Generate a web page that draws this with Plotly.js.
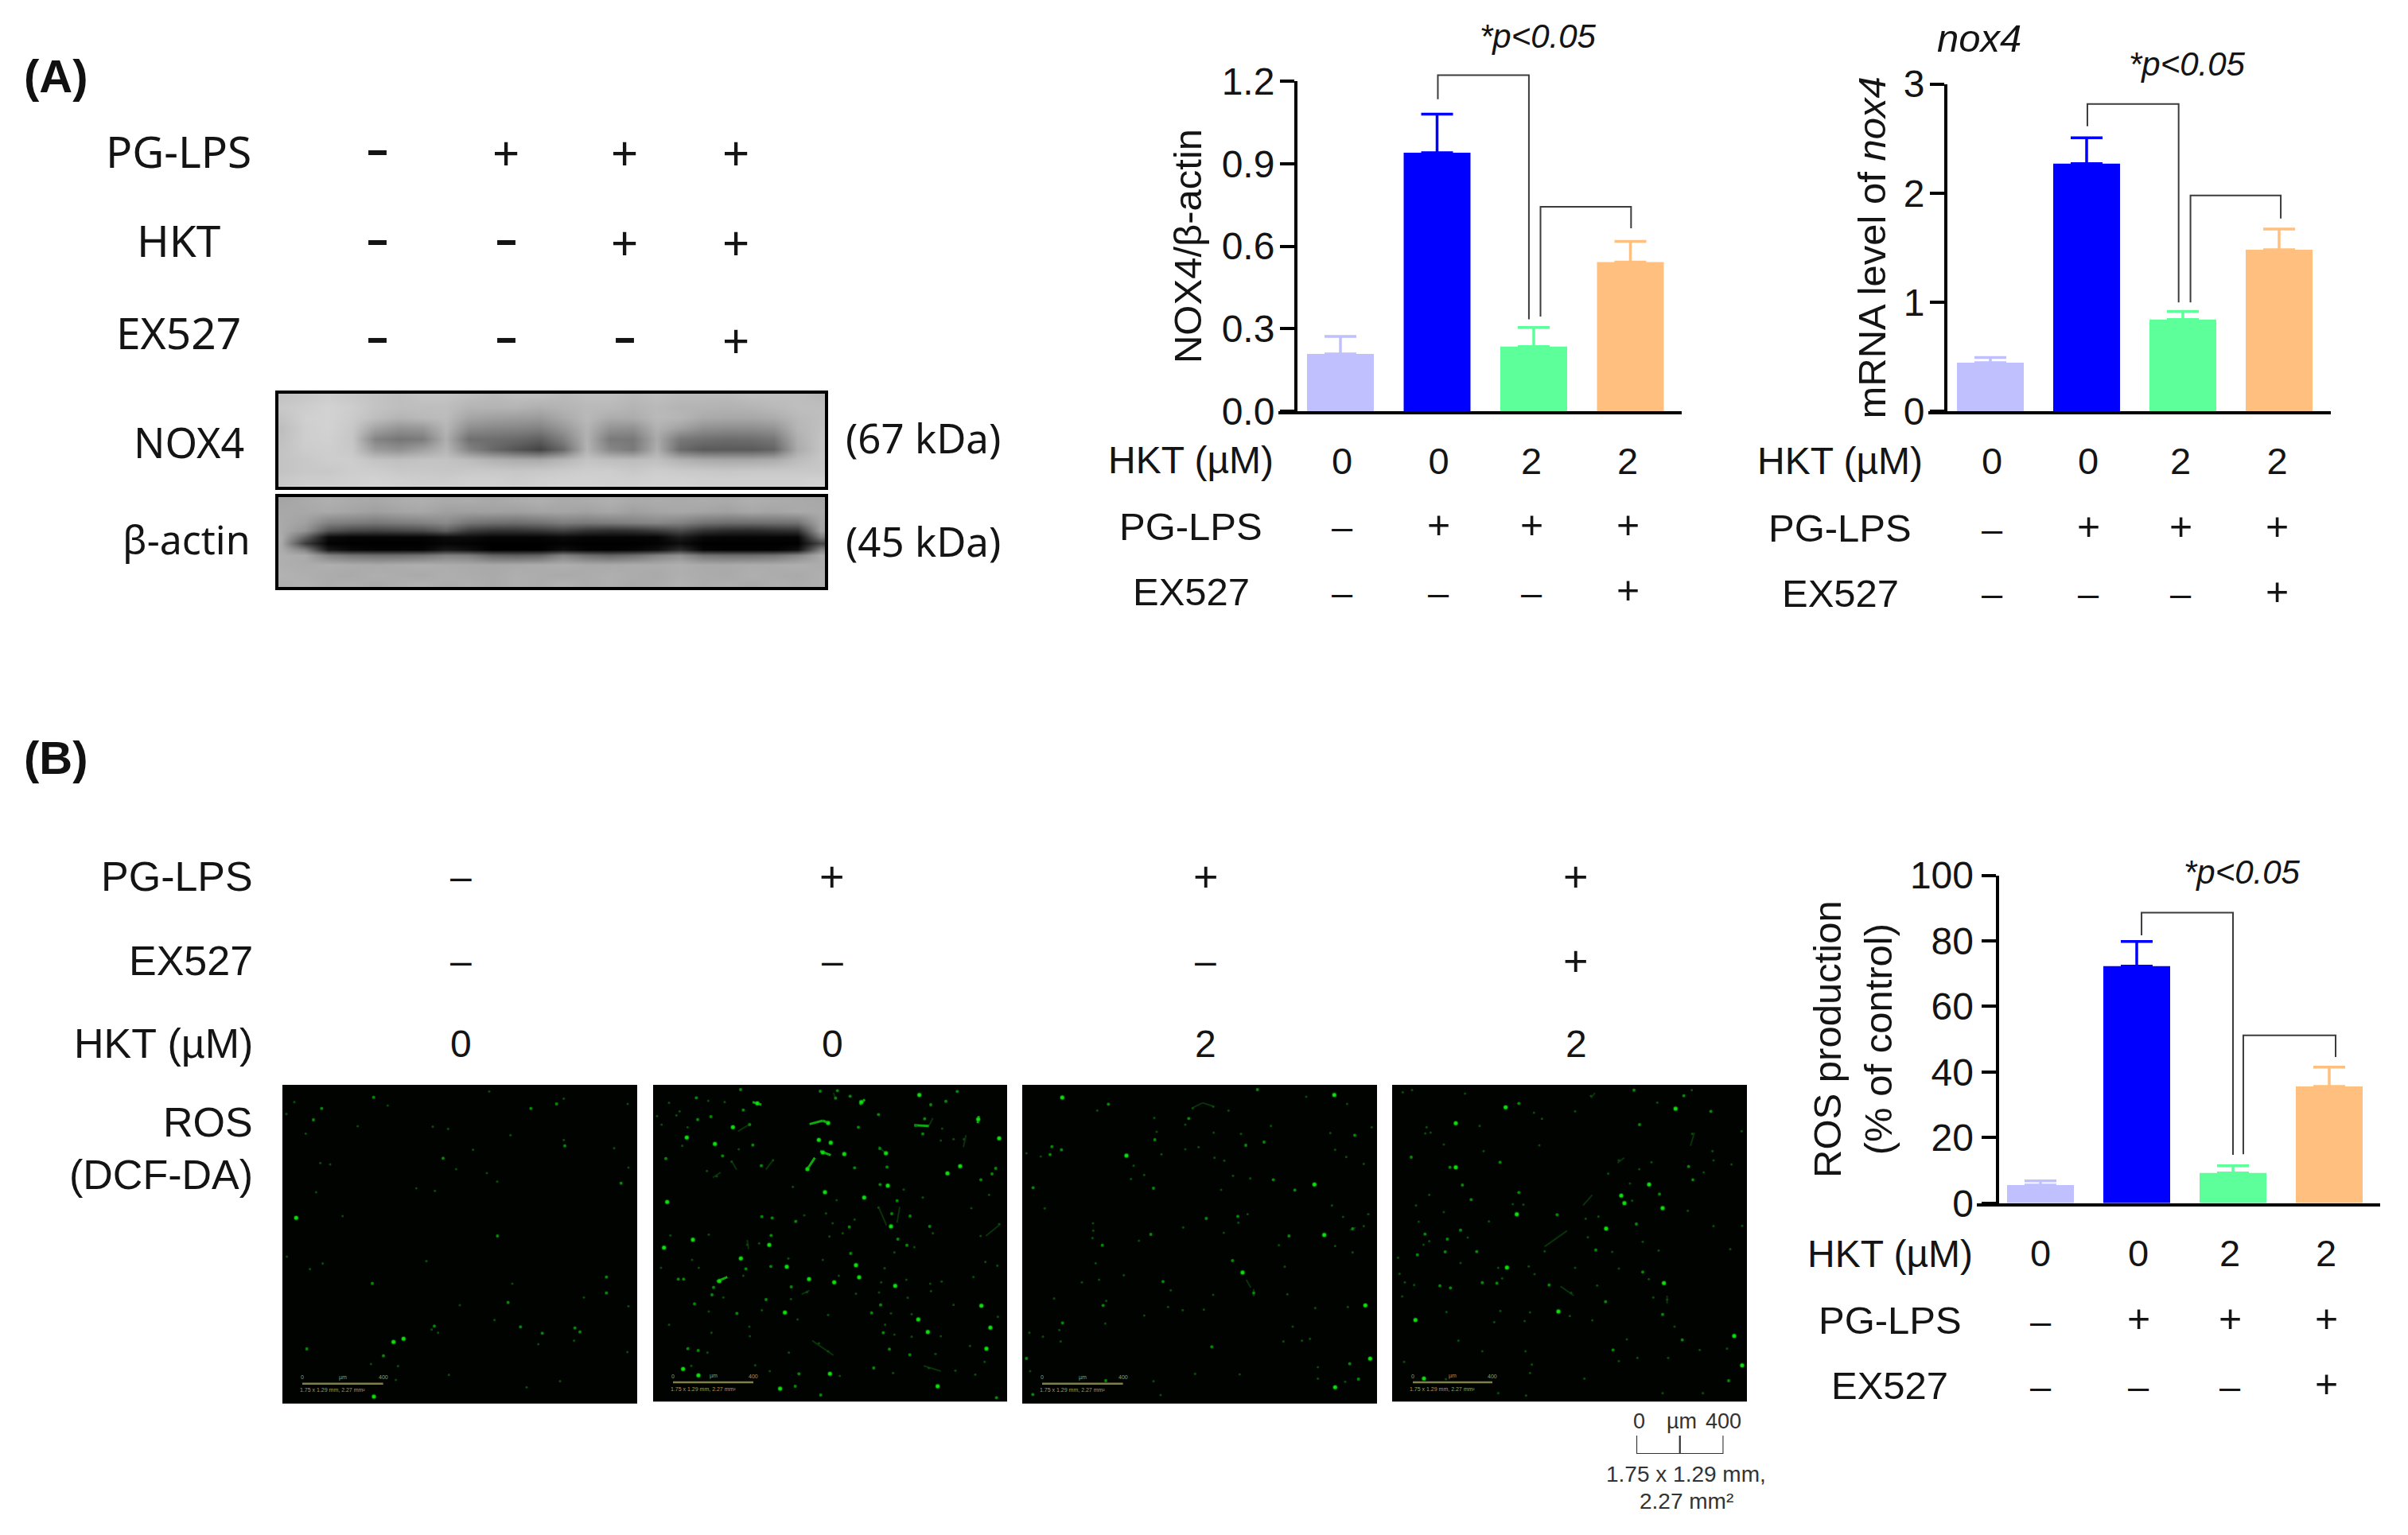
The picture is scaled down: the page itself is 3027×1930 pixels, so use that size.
<!DOCTYPE html>
<html><head><meta charset="utf-8">
<script src="https://cdn.plot.ly/plotly-3.0.1.min.js"></script>
<style>html,body{margin:0;padding:0;background:#fff;overflow:hidden}#chart{width:3027px;height:1930px}</style>
</head><body><div id="chart"></div>
<script>
// ---------- chart data ----------
const nox4Means=[0.208,0.94,0.235,0.542];
const nox4Errs=[0.064,0.14,0.069,0.075];
const mrnaMeans=[0.444,2.27,0.84,1.48];
const mrnaErrs=[0.049,0.237,0.075,0.19];
const rosMeans=[5.5,72.3,9.2,35.6];
const rosErrs=[1.3,7.5,2.2,5.9];
const barColors=['#c0c0ff','#0000ff','#5cff99','#ffc07f'];
const hktDoses=['0','0','2','2'];
const pgLpsRow=['–','+','+','+'];
const ex527Row=['–','–','–','+'];
const blotPgLps=['–','+','+','+'];
const blotHkt=['–','–','+','+'];
const blotEx527=['–','–','–','+'];
const imgPgLps=['–','+','+','+'];
const imgEx527=['–','–','–','+'];
const imgHkt=['0','0','2','2'];
// significance brackets: [x index, value]
const nox4Br1=[[1.008,1.134],[1.008,1.222],[1.95,1.222],[1.95,0.334]];
const nox4Br2=[[2.07,0.344],[2.07,0.743],[3.007,0.743],[3.007,0.665]];
const mrnaBr1=[[1.008,2.612],[1.008,2.816],[1.956,2.816],[1.956,0.997]];
const mrnaBr2=[[2.079,0.997],[2.079,1.978],[3.017,1.978],[3.017,1.767]];
const rosBr1=[[1.05,81.7],[1.05,88.6],[2.0,88.6],[2.0,14.7]];
const rosBr2=[[2.107,14.9],[2.107,51.2],[3.066,51.2],[3.066,44.6]];
// ---------- western blot densities (grey level) ----------
const blotCols=[20,86,152,218,284,350,416,482,548,614,680,746,812,878,944,1010,1076,1142,1208,1274,1340,1406,1472,1538];
const noxRows=[25,65,105,145,185,225,265,305,345];
const noxBlot=[
[195,200,205,200,195,190,195,195,190,185,190,190,185,190,190,185,190,185,185,185,190,190,190,185],
[200,205,210,205,195,190,190,190,180,180,180,175,180,185,185,180,185,180,180,178,180,185,190,190],
[195,208,210,203,190,180,185,188,165,160,158,155,170,185,172,172,185,182,170,168,168,172,185,190],
[190,206,210,200,165,148,152,182,142,136,134,130,152,180,148,145,178,162,145,142,142,148,182,192],
[192,206,208,198,132,118,124,175,112,110,105,96,128,178,122,120,170,120,112,108,110,118,175,195],
[195,204,206,200,155,145,160,182,132,105,85,68,105,180,136,122,175,108,90,90,90,100,172,195],
[195,200,205,205,195,192,195,195,188,178,172,170,182,195,190,188,192,178,170,168,168,172,188,198],
[195,200,200,205,205,200,200,198,200,200,198,200,202,205,205,200,205,202,200,198,200,200,200,200],
[200,205,205,208,210,208,205,205,208,208,205,208,210,210,208,208,210,210,208,208,208,208,208,210]];
const actinRows=[420,460,500,530,555,580,605,625,660,700,735];
const actinBlot=[
[165,170,175,170,168,172,175,170,172,168,172,175,170,172,175,170,172,170,172,170,175,172,170,168],
[168,168,170,165,160,165,168,160,160,162,160,165,165,162,168,160,165,168,165,162,168,165,170,170],
[170,160,130,125,120,125,130,138,118,112,110,115,125,122,125,130,135,130,115,110,110,112,115,165],
[170,148,85,70,65,70,75,95,60,50,50,55,65,50,45,48,60,75,50,42,40,45,50,160],
[172,100,12,5,5,5,5,12,12,5,5,5,10,5,5,5,5,30,8,5,5,5,5,125],
[170,60,2,0,0,0,0,5,2,0,0,0,2,0,0,0,2,12,0,0,0,0,0,70],
[172,130,25,8,5,5,5,25,15,0,0,0,15,3,2,5,15,45,5,2,2,2,15,130],
[175,170,130,115,110,110,115,130,125,100,95,100,130,110,100,110,130,145,115,110,110,115,135,170],
[175,172,175,172,170,172,175,172,170,168,170,172,175,170,170,172,172,175,170,170,172,172,175,172],
[178,175,172,170,175,172,170,175,172,170,175,172,170,172,175,172,170,175,172,170,175,172,170,175],
[175,178,172,175,170,175,178,172,175,170,175,172,178,172,175,170,172,178,172,175,170,175,172,175]];
// ---------- DCF-DA fluorescent spots ----------
const p1Bright=[[52,502],[457,958],[345,1176],[419,970]];
const p1Mid=[[148,89],[937,89],[606,277],[1065,230],[811,570],[851,821],[1222,785],[1277,371],[898,913],[1103,917],[1122,932],[980,937],[1034,72],[344,47],[339,749],[117,132],[1222,725],[573,910],[381,1022],[92,996]];
const p1Dim=[[180,300],[284,156],[567,158],[625,166],[860,190],[1061,208],[1251,239],[1305,312],[1302,72],[1061,52],[397,78],[88,184],[143,295],[127,405],[227,495],[152,674],[104,695],[17,648],[669,831],[800,887],[587,935],[563,923],[334,1053],[436,1061],[428,1113],[628,1094],[1047,1118],[921,1141],[965,978],[1137,802],[1305,835],[505,390],[575,400],[655,318],[771,333],[810,365],[719,245],[780,25],[45,65],[15,110],[543,665],[867,750],[1100,965],[1301,1008]];
const p2Bright=[[53,442],[41,614],[150,584],[331,655],[113,1072],[438,604],[250,740],[588,733],[1004,38],[1305,202],[1110,334],[1158,307],[721,261],[640,255],[582,318],[625,208],[301,160],[660,144],[1226,130],[127,199],[233,223],[393,70],[785,65],[670,218],[897,534],[796,425],[885,380],[913,758],[683,745],[777,726],[765,680],[504,686],[497,859],[667,1090],[171,1096],[479,1146],[1073,1137],[1000,885],[1036,932],[1238,833],[1272,916],[1257,995],[648,405],[878,258]];
const p2Mid=[[168,131],[340,95],[364,150],[218,120],[163,49],[48,278],[376,227],[262,268],[774,160],[850,112],[1024,128],[990,153],[1017,185],[1236,358],[1292,315],[1278,336],[882,310],[856,376],[920,437],[900,486],[969,495],[1043,534],[740,536],[538,515],[445,568],[444,685],[350,694],[426,810],[316,862],[115,733],[95,733],[156,826],[131,995],[170,1002],[550,1090],[536,1137],[632,1170],[824,860],[858,830],[868,935],[891,997],[968,1018],[1295,1180],[745,636],[957,605],[923,582],[855,240],[695,22],[688,50],[743,43],[630,24],[330,18],[1147,25],[1047,75],[1104,62],[408,305],[410,497],[449,502],[760,313],[228,764],[222,792],[521,762],[832,1068]];
const p2Dim=[[60,68],[100,100],[32,150],[15,118],[88,115],[130,160],[208,60],[270,65],[240,345],[203,325],[296,290],[323,243],[110,230],[452,285],[527,385],[692,435],[945,395],[1017,425],[850,463],[1133,205],[1090,165],[1172,205],[1085,210],[1267,415],[1200,465],[1305,525],[1235,570],[1055,560],[985,612],[910,632],[873,692],[860,745],[955,735],[1088,742],[1048,778],[960,803],[852,783],[765,788],[580,782],[520,808],[410,850],[363,912],[60,905],[220,935],[365,948],[512,1010],[625,975],[660,1005],[1065,1015],[1085,948],[1195,985],[1250,1045],[1215,1093],[1040,1068],[905,1087],[1300,875],[1208,725],[1253,668],[1298,682],[1133,830],[975,865],[897,862],[875,905],[910,942],[975,950],[700,720],[660,868],[545,885],[665,572],[715,560],[677,522],[570,492],[652,485],[760,508],[640,660],[510,655],[400,598],[355,603],[210,565],[65,568],[147,660],[172,690],[30,690],[340,720],[265,802],[210,855],[144,1060],[205,1010],[385,1058],[440,1080],[704,1098],[1140,1078],[1045,750]];
const p2StreakBright=[[590,148,640,135],[640,135,665,145],[580,320,610,275],[375,65,408,75],[780,75,798,55],[985,152,1040,155],[240,742,280,725],[630,250,670,265],[1224,145,1228,118]];
const p2StreakDim=[[1040,155,1055,125],[320,175,365,148],[850,232,880,262],[425,320,455,280],[295,285,315,320],[680,30,690,55],[850,460,880,530],[600,965,680,1020],[1020,1060,1085,1080],[930,460,920,520],[1170,235,1180,190],[560,790,590,775],[1255,570,1310,525],[225,350,255,330],[355,585,360,620]];
const p3Bright=[[831,708],[1312,1033],[393,267],[151,48],[1102,376],[1177,38],[1139,566],[1294,832],[1180,1141]];
const p3Mid=[[912,216],[887,18],[1254,190],[105,263],[112,233],[148,245],[500,207],[495,390],[41,388],[485,564],[694,504],[813,496],[947,358],[1006,570],[1028,397],[793,663],[531,742],[305,832],[152,898],[715,988],[1235,1052],[1268,1110],[315,1116],[40,1168],[16,1032],[873,785],[302,605],[843,228],[628,127],[1246,543],[325,73]];
const p3Dim=[[720,82],[778,97],[643,88],[498,125],[615,150],[507,177],[283,97],[420,305],[460,340],[410,355],[615,243],[525,262],[762,286],[860,353],[750,396],[795,343],[1071,45],[1225,72],[1318,160],[1162,182],[1180,245],[1222,272],[1288,298],[1168,455],[1210,498],[1288,533],[1305,488],[1180,608],[1246,632],[990,686],[968,605],[850,488],[815,520],[760,558],[607,538],[440,588],[265,578],[268,550],[267,522],[277,673],[383,718],[225,745],[290,735],[317,815],[120,806],[85,466],[70,270],[16,258],[685,848],[550,838],[720,792],[605,850],[140,925],[78,950],[27,935],[145,968],[1055,965],[1085,958],[1115,1065],[1115,1108],[1218,1120],[495,1118],[522,1170],[652,1090],[820,1092],[985,968],[1020,912],[1228,838],[1105,842],[1000,790],[560,775],[460,870],[313,900],[938,155],[825,185],[722,180],[665,235],[725,275],[30,1080]];
const p3StreakDim=[[640,88,680,68],[680,68,725,82],[873,770,873,798],[845,735,862,765],[1235,548,1258,538]];
const p4Bright=[[428,85],[1025,748],[433,689],[969,376],[1020,465],[864,418],[807,542],[1290,947],[240,145],[240,311],[1320,1058],[1069,90],[470,488],[627,855],[88,887],[876,446],[120,1108]];
const p4Mid=[[72,273],[298,433],[208,582],[95,641],[319,629],[200,630],[220,766],[395,748],[592,755],[768,623],[921,525],[1118,308],[945,706],[1269,1116],[833,1000],[1094,962],[478,70],[912,20],[1100,41],[1202,100],[124,563],[258,548],[478,406],[1020,866],[805,818],[340,746],[218,311],[180,758],[407,292],[265,378],[622,490],[1134,358],[1008,412],[933,150]];
const p4Dim=[[75,20],[40,28],[275,33],[130,160],[145,180],[125,183],[195,225],[330,155],[345,250],[555,228],[535,105],[565,128],[750,42],[690,100],[1000,67],[1130,20],[1212,285],[1208,250],[1318,175],[1280,300],[1175,330],[855,285],[815,335],[978,292],[932,318],[897,372],[905,437],[730,505],[778,497],[495,452],[455,450],[365,515],[285,576],[140,590],[118,603],[140,415],[90,455],[195,480],[100,516],[28,713],[22,652],[48,745],[83,755],[38,798],[258,672],[400,690],[415,730],[515,685],[537,714],[575,628],[690,690],[675,785],[773,757],[855,693],[1005,625],[945,592],[738,575],[830,630],[968,733],[1037,810],[985,802],[1115,475],[1320,532],[1212,533],[1275,620],[520,858],[408,853],[500,891],[385,895],[205,857],[250,965],[340,1005],[503,1005],[527,1055],[520,1087],[725,1108],[855,1042],[925,1030],[1041,1030],[1065,912],[1160,1000],[1263,995],[1020,1163],[1172,1163],[505,1172],[400,1163],[203,1110],[45,1045],[755,888],[670,872],[885,960],[1132,185]];
const p4StreakDim=[[575,610,660,550],[635,760,685,795],[720,455,755,415],[1125,230,1140,180],[850,295,875,275],[750,50,765,30],[1037,795,1037,825]];
const scaleBarP1=[[75,1127],[380,1127]];
const scaleBarP2=[[75,1122],[378,1122]];
const scaleBarP3=[[75,1127],[380,1127]];
const scaleBarP4=[[78,1122],[378,1122]];
const scaleOuter=[[0,1],[0,0],[200,0],[400,0],[400,1]];
const scaleMid=[[200,0],[200,1]];

// ---------- page geometry ----------
const W=3027,H=1930;
const SANS='"Liberation Sans", Arial, sans-serif', NOTO='"Noto Sans", sans-serif';
const dx=(a,b)=>[a/W,b/W], dy=(top,bot)=>[1-bot/H,1-top/H];
const INK='#141414';
const traces=[],annotations=[],shapes=[];
const layout={width:W,height:H,margin:{l:0,r:0,t:0,b:0},paper_bgcolor:'#fff',plot_bgcolor:'rgba(0,0,0,0)',barmode:'overlay',showlegend:false,font:{family:SANS,color:INK},annotations,shapes};
function note(text,x,y,size,opt){annotations.push(Object.assign({text,x:x/W,y:1-y/H,xref:'paper',yref:'paper',showarrow:false,xanchor:'center',yanchor:'middle',font:{family:SANS,size,color:INK}},opt||{}));}

function barChart(o){
  const s=o.n===1?'':o.n, xa='x'+s, ya='y'+s;
  const toIdx=px=>(px-o.c0)/o.step;
  layout['xaxis'+s]={domain:dx(o.left,o.right),range:[toIdx(o.left),toIdx(o.right)],anchor:'y'+s,showline:true,linecolor:'#000',linewidth:4,ticks:'',tickmode:'array',tickvals:o.markX.map(toIdx),ticktext:hktDoses,tickfont:{family:SANS,size:47,color:INK},ticklabelstandoff:o.lblOff,showgrid:false,zeroline:false,fixedrange:true};
  layout['yaxis'+s]={domain:dy(o.top,o.bot-2),range:[0,o.ymax],anchor:'free',position:(o.axisX+2)/W,showline:true,linecolor:'#000',linewidth:4,ticks:'outside',ticklen:18,tickwidth:4,tickcolor:'#000',tickmode:'linear',tick0:0,dtick:o.dtick,tickformat:o.fmt,tickfont:{family:SANS,size:48,color:INK},ticklabelstandoff:o.tickOff||0,showgrid:false,zeroline:false,automargin:false,fixedrange:true,
    title:{text:o.ytitle,font:{family:SANS,size:49,color:INK},standoff:o.standoff}};
  o.means.forEach((v,i)=>traces.push({type:'bar',x:[i],y:[v],width:[84/o.step],xaxis:xa,yaxis:ya,marker:{color:barColors[i],line:{width:0}},error_y:{type:'data',array:[o.errs[i]],arrayminus:[0],symmetric:false,color:barColors[i],thickness:3.5,width:20},name:hktDoses[i],hoverinfo:'y'}));
  // brackets rise above the axis top, so they sit on a hidden value axis with the same scale and a taller domain
  const bn=o.n+10, brTop=o.brTop;
  const unitPx=(o.bot-2-o.top)/o.ymax;
  layout['yaxis'+bn]={domain:dy(brTop,o.bot-2),range:[0,(o.bot-2-brTop)/unitPx],anchor:xa,visible:false,fixedrange:true};
  [o.br1,o.br2].forEach(b=>traces.push({type:'scatter',mode:'lines',x:b.map(p=>p[0]),y:b.map(p=>p[1]),xaxis:xa,yaxis:'y'+bn,line:{color:'#3c3c3c',width:2},hoverinfo:'skip'}));
  o.rows.forEach((r,k)=>{
    note(r.label,o.labelX,r.y,r.size);
    if(r.vals) r.vals.forEach((t,i)=>note(t,o.markX[i],r.y-(t==='+'?2:0),t==='+'?50:47));
  });
  note('<i>*p&lt;0.05</i>',o.px,o.py,42);
}
barChart({n:1,left:1607,right:2114,top:102,bot:519,axisX:1627,c0:1685,step:121.5,ymax:1.2,dtick:0.3,fmt:'.1f',tickOff:-3,brTop:60,means:nox4Means,errs:nox4Errs,br1:nox4Br1,br2:nox4Br2,ytitle:'NOX4/β-actin',standoff:9,lblOff:19,markX:[1687,1808.6,1925,2046],labelX:1497,rows:[{label:'HKT (µM)',y:578,size:48},{label:'PG-LPS',y:662,vals:pgLpsRow,size:49},{label:'EX527',y:744,vals:ex527Row,size:49}],px:1933,py:46});
barChart({n:2,left:2424,right:2930,top:105.6,bot:519,axisX:2444,c0:2502,step:121,ymax:3,dtick:1,fmt:'d',tickOff:-3,brTop:60,means:mrnaMeans,errs:mrnaErrs,br1:mrnaBr1,br2:mrnaBr2,ytitle:'mRNA level of <i>nox4</i>',standoff:6,lblOff:19,markX:[2504,2625,2741,2862.6],labelX:2313,rows:[{label:'HKT (µM)',y:579.6,size:48},{label:'PG-LPS',y:664,vals:pgLpsRow,size:49},{label:'EX527',y:746,vals:ex527Row,size:49}],px:2749.5,py:80.6});
barChart({n:3,left:2484.5,right:2991.5,top:1100.6,bot:1514.7,axisX:2508.6,c0:2565,step:121,ymax:100,dtick:20,fmt:'d',brTop:1060,means:rosMeans,errs:rosErrs,br1:rosBr1,br2:rosBr2,ytitle:'ROS production<br>(% of control)',standoff:6,lblOff:19,markX:[2565,2688,2803,2924],labelX:2375.6,rows:[{label:'HKT (µM)',y:1576.6,size:48},{label:'PG-LPS',y:1660,vals:pgLpsRow,size:49},{label:'EX527',y:1742,vals:ex527Row,size:49}],px:2818,py:1096});
note('<i>nox4</i>',2488,48,49);

// ---------- western blots ----------
function blot(n,z,rows,top,bot,yr){
  layout['xaxis'+n]={domain:dx(349.5,1037),range:[10,1550],anchor:'y'+n,showline:true,mirror:true,linecolor:'#000',linewidth:4,ticks:'',showticklabels:false,showgrid:false,zeroline:false,fixedrange:true};
  layout['yaxis'+n]={domain:dy(top,bot),range:yr,anchor:'x'+n,showline:true,mirror:true,linecolor:'#000',linewidth:4,ticks:'',showticklabels:false,showgrid:false,zeroline:false,fixedrange:true};
  traces.push({type:'heatmap',x:blotCols,y:rows,z,xaxis:'x'+n,yaxis:'y'+n,zmin:0,zmax:255,zsmooth:'best',colorscale:[[0,'#000'],[1,'#fff']],showscale:false,hoverinfo:'skip'});
}
blot(4,noxBlot,noxRows,495,611.7,[365,15]);
blot(5,actinBlot,actinRows,625,738,[745,405]);

// ---------- panel A text ----------
note('(A)',70,96,58,{font:{family:SANS,size:58,color:'#111',weight:700}});
const aMarksX=[474,636,785,924.5];
function aRow(label,vals,yDash,yPlus,yLabel){
  note(label,224,yLabel,55,{font:{family:NOTO,size:55,color:INK}});
  vals.forEach((t,i)=>note(t,aMarksX[i],t==='+'?yPlus:yDash,t==='+'?60:54,{font:{family:NOTO,size:t==='+'?60:54,color:INK,weight:t==='+'?400:700}}));
}
aRow('PG-LPS',blotPgLps,185,192,189);
aRow('HKT',blotHkt,298,305,302);
aRow('EX527',blotEx527,421,428,417);
note('NOX4',237,555,52,{font:{family:NOTO,size:52,color:INK}});
note('β-actin',234,678,52,{font:{family:NOTO,size:50,color:INK}});
note('(67 kDa)',1160,550,51,{font:{family:NOTO,size:51,color:INK}});
note('(45 kDa)',1160,680,51,{font:{family:NOTO,size:51,color:INK}});

// ---------- panel B text ----------
note('(B)',70,953,58,{font:{family:SANS,size:58,color:'#111',weight:700}});
const bMarksX=[579,1046,1515.5,1981];
function bRow(label,vals,y){
  note(label,320,y,52,{xanchor:'right'});
  vals.forEach((t,i)=>note(t,bMarksX[i],y,t==='+'?54:48));
}
bRow('PG-LPS',imgPgLps,1102);
bRow('EX527',imgEx527,1208);
bRow('HKT (µM)',imgHkt,1312);
note('ROS',320,1411,52,{xanchor:'right'});
note('(DCF-DA)',320,1477,52,{xanchor:'right'});

// ---------- fluorescence panels ----------
function panel(n,left,right,top,bot,bright,mid,dim,streakB,streakD,bar,rx,ry){
  const xa='x'+n, ya='y'+n;
  layout['xaxis'+n]={domain:dx(left,right),range:[0,1341],anchor:'y'+n,visible:false,fixedrange:true};
  layout['yaxis'+n]={domain:dy(top,bot),range:[1206,0],anchor:'x'+n,visible:false,fixedrange:true};
  shapes.push({type:'rect',xref:xa,yref:ya,x0:0,x1:rx,y0:0,y1:ry,fillcolor:'#000300',line:{width:0},layer:'below'});
  const seg=a=>{const xs=[],ys=[];a.forEach(s=>{xs.push(s[0],s[2],null);ys.push(s[1],s[3],null);});return{x:xs,y:ys};};
  if(streakD.length){const g=seg(streakD);traces.push({type:'scatter',mode:'lines',x:g.x,y:g.y,xaxis:xa,yaxis:ya,line:{color:'#083208',width:2},hoverinfo:'skip'});}
  if(streakB.length){const g=seg(streakB);traces.push({type:'scatter',mode:'lines',x:g.x,y:g.y,xaxis:xa,yaxis:ya,line:{color:'#0fa80f',width:3},hoverinfo:'skip'});}
  [[dim,'#0a480a',3.2,0,'rgba(0,0,0,0)'],[mid,'#088808',3.8,1.2,'rgba(0,100,0,.3)'],[bright,'#10e010',5,1.8,'rgba(0,150,0,.4)']].forEach(t=>{
    traces.push({type:'scatter',mode:'markers',x:t[0].map(p=>p[0]),y:t[0].map(p=>p[1]),xaxis:xa,yaxis:ya,marker:{color:t[1],size:t[2],line:{color:t[4],width:t[3]}},hoverinfo:'skip'});
  });
  traces.push({type:'scatter',mode:'lines',x:bar.map(p=>p[0]),y:bar.map(p=>p[1]),xaxis:xa,yaxis:ya,line:{color:'#7f7f48',width:2.5},hoverinfo:'skip'});
  const by=bar[0][1];
  [['0',bar[0][0]],['µm',(bar[0][0]+bar[1][0])/2],['400',bar[1][0]]].forEach(l=>annotations.push({text:l[0],x:l[1],y:by-24,xref:xa,yref:ya,showarrow:false,font:{family:SANS,size:7,color:'#a39c64'}}));
  annotations.push({text:'1.75 x 1.29 mm, 2.27 mm²',x:190,y:by+24,xref:xa,yref:ya,showarrow:false,font:{family:SANS,size:7,color:'#a39c64'}});
}
panel(6,355,802,1364,1766,p1Bright,p1Mid,p1Dim,[],[],scaleBarP1,1338,1202);
panel(7,821,1268,1364,1766,p2Bright,p2Mid,p2Dim,p2StreakBright,p2StreakDim,scaleBarP2,1335,1195);
panel(8,1285,1732,1364,1766,p3Bright,p3Mid,p3Dim,[],p3StreakDim,scaleBarP3,1338,1202);
panel(9,1750,2197,1364,1766,p4Bright,p4Mid,p4Dim,[],p4StreakDim,scaleBarP4,1338,1195);

// ---------- external scale bar ----------
layout.xaxis20={domain:dx(2057,2166.5),range:[0,400],anchor:'y20',visible:false,fixedrange:true};
layout.yaxis20={domain:dy(1805,1828),range:[0,1],anchor:'x20',visible:false,fixedrange:true};
[scaleOuter,scaleMid].forEach(a=>traces.push({type:'scatter',mode:'lines',x:a.map(p=>p[0]),y:a.map(p=>p[1]),xaxis:'x20',yaxis:'y20',cliponaxis:false,line:{color:'#333',width:2.2},hoverinfo:'skip'}));
const grey={font:{family:SANS,size:27,color:'#333'}};
const greyB={font:{family:SANS,size:28,color:'#333'}};
note('0',2060,1787,27,grey);note('µm',2114,1787,27,grey);note('400',2166,1787,27,grey);
note('1.75 x 1.29 mm,',2119.5,1853.6,28,greyB);note('2.27 mm²',2120,1887,28,greyB);

Plotly.newPlot('chart',traces,layout,{staticPlot:true,displayModeBar:false,responsive:false});
</script></body></html>
